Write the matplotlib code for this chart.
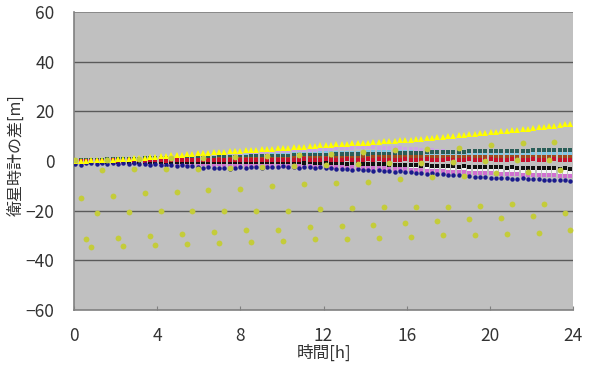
import numpy as np
import matplotlib
matplotlib.use("Agg")
import matplotlib.pyplot as plt

plt.rcParams['font.family'] = ['Noto Sans CJK JP', 'DejaVu Sans']

# sample times [h] (one sample every ~0.256 h)
t = 0.064 + 0.256 * np.arange(94)

x_ticks = [0, 4, 8, 12, 16, 20, 24]
y_ticks = [-60, -40, -20, 0, 20, 40, 60]

yellow = [0.0, 0.1, 0.1, 0.2, 0.3, 0.3, 0.4, 0.5, 0.6, 0.7,
          0.8, 1.0, 1.1, 1.3, 1.5, 1.7, 1.9, 2.1, 2.3, 2.5,
          2.6, 2.8, 3.0, 3.1, 3.3, 3.4, 3.6, 3.7, 3.8, 4.0,
          4.1, 4.2, 4.4, 4.5, 4.6, 4.7, 4.8, 5.0, 5.1, 5.2,
          5.4, 5.5, 5.7, 5.8, 6.0, 6.1, 6.3, 6.4, 6.5, 6.7,
          6.8, 6.9, 7.1, 7.2, 7.3, 7.4, 7.6, 7.7, 7.9, 8.0,
          8.2, 8.3, 8.5, 8.6, 8.8, 8.9, 9.1, 9.3, 9.5, 9.7,
          9.9, 10.1, 10.3, 10.5, 10.7, 10.9, 11.1, 11.3, 11.5, 11.8,
          12.0, 12.2, 12.4, 12.6, 12.8, 13.0, 13.2, 13.5, 13.7, 13.9,
          14.2, 14.5, 14.7, 15.0]

navy = [-1.2, -1.5, -1.0, -0.8, -1.3, -0.9, -1.1, -1.0, -1.2, -0.9,
        -1.1, -1.0, -1.3, -1.2, -1.5, -1.3, -1.6, -1.8, -1.5, -2.0,
        -1.7, -2.2, -1.9, -2.5, -2.8, -2.6, -3.0, -2.7, -2.9, -3.1,
        -2.8, -2.6, -2.9, -2.5, -2.3, -2.7, -2.4, -2.6, -2.5, -2.2,
        -2.6, -2.4, -2.8, -2.5, -2.3, -2.7, -2.6, -3.0, -2.9, -3.2,
        -3.3, -3.1, -3.5, -3.4, -3.7, -3.6, -3.9, -3.8, -4.0, -4.1,
        -4.3, -4.2, -4.5, -4.6, -4.8, -4.9, -5.1, -5.0, -5.3, -5.4,
        -5.6, -5.5, -5.8, -6.0, -6.2, -6.3, -6.5, -6.6, -6.8, -6.9,
        -7.0, -6.9, -7.1, -7.2, -7.0, -7.3, -7.4, -7.2, -7.5, -7.6,
        -7.5, -7.7, -7.8, -7.9]

pink = [-0.6, -0.4, -0.7, -0.5, -0.6, -0.7, -0.5, -0.8, -0.6, -0.7,
        -0.8, -0.7, -0.9, -0.8, -1.0, -0.9, -1.1, -1.0, -1.2, -1.1,
        -1.2, -1.1, -1.3, -1.2, -1.4, -1.3, -1.5, -1.4, -1.6, -1.5,
        -1.5, -1.6, -1.7, -1.6, -1.8, -1.7, -1.8, -1.9, -1.8, -2.0,
        -1.9, -2.0, -2.1, -2.0, -2.2, -2.1, -2.3, -2.2, -2.4, -2.5,
        -2.4, -2.6, -2.5, -2.7, -2.8, -2.7, -2.9, -3.0, -2.9, -3.1,
        -3.1, -3.2, -3.4, -3.5, -3.6, -3.8, -3.9, -4.0, -4.1, -4.2,
        -4.3, -4.4, -4.6, -4.5, -4.7, -4.8, -4.9, -5.0, -5.0, -5.1,
        -5.2, -5.3, -5.3, -5.4, -5.5, -5.5, -5.6, -5.7, -5.7, -5.8,
        -5.8, -5.9, -6.0, -6.0]

white = [-0.4, -0.4, -0.5, -0.5, -0.5, -0.6, -0.6, -0.6, -0.7, -0.7,
         -0.7, -0.8, -0.8, -0.8, -0.9, -0.9, -0.9, -1.0, -1.0, -1.0,
         -1.1, -1.1, -1.1, -1.2, -1.2, -1.2, -1.3, -1.3, -1.3, -1.4,
         -1.4, -1.4, -1.5, -1.5, -1.5, -1.6, -1.6, -1.6, -1.7, -1.7,
         -1.7, -1.8, -1.8, -1.9, -1.9, -2.0, -2.0, -2.1, -2.1, -2.2,
         -2.2, -2.3, -2.3, -2.4, -2.4, -2.5, -2.5, -2.6, -2.6, -2.7,
         -2.7, -2.8, -2.8, -2.9, -2.9, -3.0, -3.0, -3.1, -3.1, -3.2,
         -3.2, -3.3, -3.3, -3.4, -3.4, -3.5, -3.5, -3.6, -3.6, -3.7,
         -3.7, -3.8, -3.8, -3.9, -3.9, -4.0, -4.0, -4.1, -4.1, -4.2,
         -4.2, -4.3, -4.3, -4.4]

black = [-0.3, -0.2, -0.4, -0.3, -0.2, -0.4, -0.3, -0.3, -0.4, -0.2,
         -0.3, -0.4, -0.3, -0.5, -0.4, -0.3, -0.4, -0.5, -0.4, -0.5,
         -0.4, -0.5, -0.4, -0.5, -0.6, -0.5, -0.4, -0.5, -0.6, -0.5,
         -0.5, -0.6, -0.5, -0.4, -0.5, -0.6, -0.5, -0.5, -0.4, -0.6,
         -0.5, -0.6, -0.5, -0.7, -0.6, -0.8, -0.7, -0.9, -0.8, -1.0,
         -1.0, -1.1, -1.0, -1.2, -1.1, -1.3, -1.2, -1.4, -1.3, -1.5,
         -1.5, -1.6, -1.7, -1.6, -1.8, -1.9, -1.8, -2.0, -2.1, -2.0,
         -2.1, -2.2, -2.3, -2.2, -2.4, -2.3, -2.5, -2.4, -2.6, -2.5,
         -2.6, -2.7, -2.6, -2.8, -2.7, -2.9, -2.8, -2.9, -3.0, -2.9,
         -3.0, -3.1, -3.0, -3.1]

red = [0.0, 0.1, -0.1, 0.0, 0.1, 0.0, 0.1, 0.2, 0.0, 0.1,
       0.2, 0.1, 0.2, 0.1, 0.2, 0.3, 0.2, 0.1, 0.2, 0.3,
       0.2, 0.3, 0.2, 0.3, 0.4, 0.3, 0.2, 0.3, 0.4, 0.3,
       0.3, 0.4, 0.3, 0.4, 0.5, 0.4, 0.3, 0.4, 0.5, 0.4,
       0.5, 0.4, 0.5, 0.6, 0.5, 0.4, 0.5, 0.6, 0.5, 0.4,
       0.5, 0.6, 0.5, 0.4, 0.5, 0.6, 0.5, 0.6, 0.5, 0.4,
       0.5, 0.4, 0.6, 0.5, 0.4, 0.5, 0.6, 0.5, 0.4, 0.5,
       0.6, 0.5, 0.4, 0.5, 0.6, 0.5, 0.4, 0.5, 0.6, 0.5,
       0.4, 0.5, 0.6, 0.5, 0.4, 0.5, 0.6, 0.5, 0.4, 0.5,
       0.6, 0.5, 0.4, 0.5]

brown = [-0.2, -0.1, -0.2, 0.0, -0.1, 0.0, 0.1, 0.0, 0.1, 0.1,
         0.2, 0.1, 0.2, 0.2, 0.3, 0.2, 0.3, 0.3, 0.4, 0.3,
         0.4, 0.3, 0.4, 0.5, 0.4, 0.5, 0.5, 0.6, 0.5, 0.6,
         0.6, 0.7, 0.6, 0.7, 0.8, 0.7, 0.8, 0.8, 0.9, 0.8,
         0.9, 1.0, 0.9, 1.0, 1.1, 1.0, 1.1, 1.2, 1.1, 1.2,
         1.2, 1.3, 1.2, 1.3, 1.4, 1.3, 1.4, 1.5, 1.4, 1.5,
         1.5, 1.4, 1.5, 1.6, 1.5, 1.4, 1.5, 1.6, 1.5, 1.6,
         1.5, 1.4, 1.5, 1.6, 1.5, 1.6, 1.5, 1.4, 1.5, 1.6,
         1.5, 1.6, 1.5, 1.4, 1.5, 1.6, 1.5, 1.4, 1.5, 1.6,
         1.5, 1.4, 1.5, 1.6]

teal = [0.2, 0.3, 0.3, 0.4, 0.5, 0.5, 0.6, 0.7, 0.7, 0.8,
        0.8, 0.9, 0.9, 1.0, 1.0, 1.0, 1.1, 1.1, 1.1, 1.2,
        1.2, 1.2, 1.2, 1.3, 1.3, 1.3, 1.3, 1.4, 1.4, 1.5,
        1.5, 1.6, 1.7, 1.8, 1.8, 1.9, 2.0, 2.0, 2.1, 2.2,
        2.2, 2.3, 2.3, 2.4, 2.4, 2.5, 2.5, 2.6, 2.6, 2.7,
        2.7, 2.7, 2.8, 2.8, 2.9, 2.9, 2.9, 3.0, 3.0, 3.0,
        3.1, 3.1, 3.2, 3.3, 3.3, 3.4, 3.5, 3.5, 3.6, 3.6,
        3.7, 3.7, 3.8, 3.8, 3.9, 3.9, 3.9, 4.0, 4.0, 4.0,
        4.1, 4.1, 4.1, 4.2, 4.2, 4.2, 4.3, 4.3, 4.3, 4.3,
        4.4, 4.4, 4.4, 4.5]

cyan = [0.0, 0.1, 0.1, 0.2, 0.2, 0.3, 0.3, 0.4, 0.4, 0.5,
        0.5, 0.6, 0.6, 0.7, 0.7, 0.8, 0.8, 0.9, 0.9, 1.0,
        1.0, 1.1, 1.1, 1.2, 1.2, 1.3, 1.3, 1.4, 1.4, 1.5,
        1.6, 1.7, 1.8, 1.9, 2.0, 2.1, 2.2, 2.3, 2.4, 2.5,
        2.6, 2.7, 2.8, 2.9, 3.0, 3.0, 3.1, 3.1, 3.2, 3.2,
        3.3, 3.3, 3.4, 3.4, 3.4, 3.5, 3.5, 3.5, 3.5, 3.6,
        3.6, 3.5, 3.5, 3.5, 3.4, 3.4, 3.4, 3.3, 3.3, 3.3,
        3.2, 3.2, 3.2, 3.1, 3.1, 3.1, 3.0, 3.0, 3.0, 3.0,
        3.0, 3.0, 3.0, 2.9, 2.9, 3.0, 3.0, 3.0, 2.9, 3.0,
        3.0, 3.0, 2.9, 3.0]

lavender = [0.0, 0.1, 0.1, 0.2, 0.2, 0.3, 0.3, 0.4, 0.4, 0.5,
            0.5, 0.6, 0.6, 0.7, 0.7, 0.8, 0.8, 0.9, 0.9, 1.0,
            1.0, 1.1, 1.1, 1.2, 1.2, 1.3, 1.3, 1.4, 1.5, 1.6,
            1.7, 1.9, 2.1, 2.3, 2.5, 2.7, 2.9, 3.1, 3.3, 3.5,
            3.7, 3.9, 4.1, 4.3, 4.5, 4.6, 4.8, 4.9, 5.0, 5.1,
            5.2, 5.3, 5.4, 5.5, 5.5, 5.5, 5.5, 5.4, 5.4, 5.3,
            5.2, 5.1, 5.0, 4.9, 4.7, 4.6, 4.4, 4.3, 4.1, 4.0,
            3.8, 3.7, 3.5, 3.4, 3.3, 3.2, 3.1, 3.0, 2.9, 2.8,
            2.7, 2.6, 2.6, 2.5, 2.4, 2.4, 2.3, 2.3, 2.2, 2.2,
            2.1, 2.1, 2.0, 2.0]

scatter = [0.2,
           -14.8, -31.5, -34.6, -20.8, -3.6, 0.3,
           -14.0, -30.9, -34.2, -20.5, -3.4, 0.6,
           -13.0, -30.2, -33.9, -20.1, -3.4, 1.0,
           -12.6, -29.6, -33.4, -20.1, -3.1, 1.3,
           -11.7, -28.8, -32.9, -20.0, -2.8, 1.7,
           -11.1, -28.0, -32.6, -20.0, -2.3, 2.0,
           -9.9, -27.8, -32.1, -20.0, -2.0, 2.4,
           -9.4, -26.7, -31.5, -19.5, -1.7, 3.0,
           -8.7, -26.4, -31.4, -18.8, -1.3, 3.7,
           -8.3, -25.8, -30.9, -18.6, -1.0, 4.4,
           -7.2, -24.8, -30.5, -18.4, -0.7, 4.9,
           -6.6, -24.1, -29.9, -18.4, -0.3, 5.3,
           -5.9, -23.2, -29.7, -18.0, 0.0, 6.4,
           -5.0, -22.8, -29.4, -17.4, 0.3, 7.1,
           -4.5, -22.1, -28.9, -17.3, 0.5, 7.8,
           -3.8, -21.0, -28.0]

series = [
    (lavender, '#c9a3e6', 's'),
    (cyan, '#7ec6e6', 's'),
    (teal, '#2a5e58', 's'),
    (white, '#f4f4f4', 's'),
    (pink, '#d070d0', 's'),
    (black, '#111111', 's'),
    (brown, '#a04a1a', 's'),
    (red, '#c8102e', 's'),
    (navy, '#1a1a8c', 'o'),
    (yellow, '#ffff00', '^'),
]

fig = plt.figure(figsize=(5.97, 3.65), dpi=100)
ax = fig.add_axes([0.124, 0.151, 0.836, 0.816])
ax.set_facecolor('#c0c0c0')

for vals, col, mk in series:
    ax.plot(t, vals, linestyle='none', marker=mk,
            markersize=3.8 if mk == '^' else 3.2,
            color=col, markeredgewidth=0, zorder=3)
ax.plot(t, scatter, linestyle='none', marker='o', markersize=4.2,
        color='#c4cc3a', markeredgewidth=0, zorder=4)

ax.set_xlim(0, 24)
ax.set_ylim(-60, 60)
ax.set_xticks(x_ticks)
ax.set_yticks(y_ticks)
for yv in [-40, -20, 20, 40]:
    ax.axhline(yv, color='#5a5a5a', lw=1.0, zorder=1)
ax.axhline(60, color='#808080', lw=1.2, zorder=1)

for s in ['top', 'right']:
    ax.spines[s].set_visible(False)
for s in ['left', 'bottom']:
    ax.spines[s].set_color('#808080')
    ax.spines[s].set_linewidth(1.2)

ax.tick_params(axis='x', direction='in', length=3, color='#808080',
               labelsize=12.5, pad=12, labelcolor='#333333')
ax.tick_params(axis='y', length=0, labelsize=12.5, pad=14, labelcolor='#333333')

ax.set_xlabel('時間[h]', fontsize=12, labelpad=0, color='#333333')
ax.set_ylabel('衛星時計の差[m]', fontsize=11.5, color='#333333')
ax.yaxis.set_label_coords(-0.1, 0.52)

fig.savefig('out.png', dpi=100, facecolor='white')
